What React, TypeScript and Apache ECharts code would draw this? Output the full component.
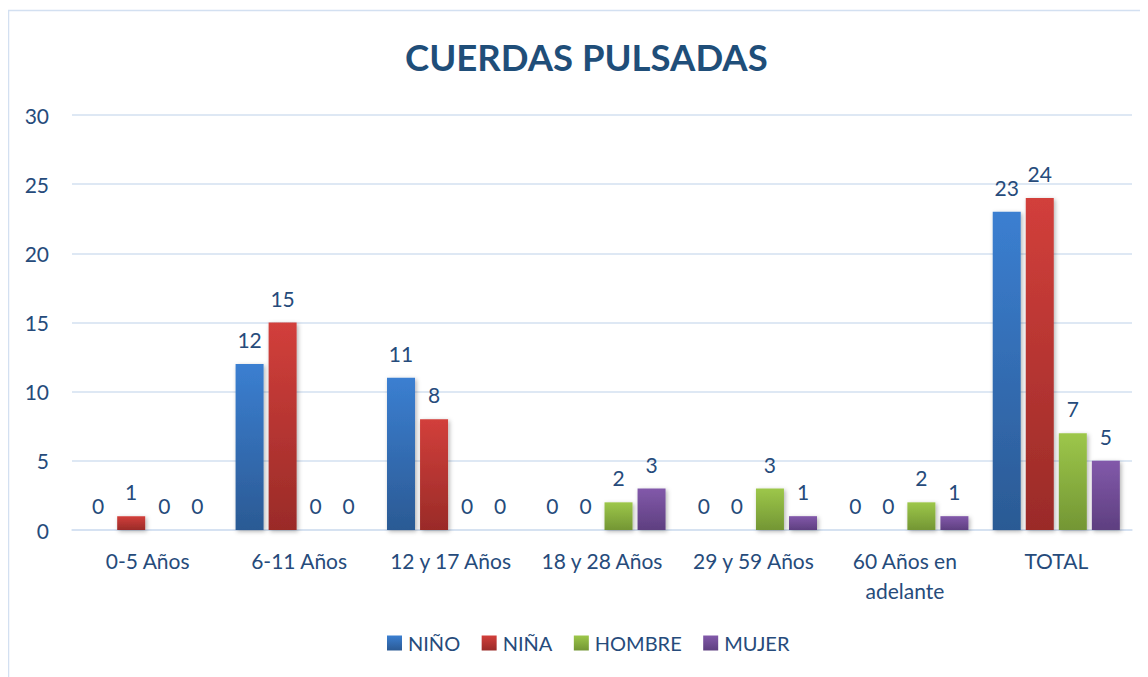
import React, { useEffect, useRef } from "react";
import * as echarts from "echarts";

const categories = ["0-5 Años", "6-11 Años", "12 y 17 Años", "18 y 28 Años", "29 y 59 Años", "60 Años en adelante", "TOTAL"];
const seriesNames = ["NIÑO", "NIÑA", "HOMBRE", "MUJER"];
const ninoValues = [0, 12, 11, 0, 0, 0, 23];
const ninaValues = [1, 15, 8, 0, 0, 0, 24];
const hombreValues = [0, 0, 0, 2, 3, 2, 7];
const mujerValues = [0, 0, 0, 3, 1, 1, 5];
const yTicks = { min: 0, max: 30, interval: 5 };

const TEXT = "#264B7B";
const FONT = "Lato, 'Open Sans', sans-serif";

const grad = (top: string, bottom: string) =>
  new echarts.graphic.LinearGradient(0, 0, 0, 1, [
    { offset: 0, color: top },
    { offset: 1, color: bottom },
  ]);

const palette = [
  ["#3B7FD1", "#2B5A94"],
  ["#D23F3B", "#9A2B28"],
  ["#9DC74A", "#739634"],
  ["#8259AA", "#5E3F80"],
];

export default function App() {
  const ref = useRef<HTMLDivElement>(null);
  useEffect(() => {
    if (!ref.current) return;
    const chart = echarts.init(ref.current, null, { renderer: "svg" });
    const allValues = [ninoValues, ninaValues, hombreValues, mujerValues];
    chart.setOption({
      animation: false,
      backgroundColor: "#ffffff",
      textStyle: { fontFamily: FONT },
      graphic: [
        {
          type: "rect",
          shape: { x: 0.5, y: 2.5, width: 1200, height: 800 },
          style: { fill: "none", stroke: "#D3E0F1", lineWidth: 1.5 },
          silent: true,
        },
      ],
      title: {
        text: "CUERDAS PULSADAS",
        left: 392,
        top: 25,
        textStyle: { fontFamily: FONT, fontSize: 36.5, fontWeight: "bold", color: "#1F4E79" },
      },
      legend: {
        data: seriesNames,
        bottom: 19,
        left: 374,
        icon: "rect",
        itemWidth: 15,
        itemHeight: 15,
        itemGap: 21.5,
        textStyle: { fontFamily: FONT, fontSize: 20, color: TEXT, padding: [0, 0, 0, 1] },
      },
      grid: { left: 64, right: 16, top: 107, bottom: 147, containLabel: false },
      xAxis: {
        type: "category",
        data: categories,
        axisLine: { show: true, lineStyle: { color: "#D3E0F1", width: 1.5 } },
        axisTick: { show: false },
        axisLabel: {
          fontFamily: FONT,
          fontSize: 21,
          color: TEXT,
          margin: 15,
          lineHeight: 30,
          interval: 0,
          formatter: (v: string) => v.replace(" en adelante", " en\nadelante"),
        },
      },
      yAxis: {
        type: "value",
        min: yTicks.min,
        max: yTicks.max,
        interval: yTicks.interval,
        axisLine: { show: false },
        axisTick: { show: false },
        axisLabel: { fontFamily: FONT, fontSize: 21, color: TEXT, margin: 23 },
        splitLine: { lineStyle: { color: "#D3E0F1", width: 1.5 } },
      },
      series: seriesNames.map((name, i) => ({
        name,
        type: "bar",
        data: allValues[i],
        barWidth: 28,
        barGap: "18%",
        itemStyle: {
          color: grad(palette[i][0], palette[i][1]),
          shadowColor: "rgba(0,0,0,0.3)",
          shadowBlur: 4,
          shadowOffsetX: 1.5,
          shadowOffsetY: 1.5,
        },
        label: {
          show: true,
          position: "top",
          distance: 14,
          fontFamily: FONT,
          fontSize: 21,
          color: TEXT,
        },
      })),
    });
    return () => chart.dispose();
  }, []);
  return <div ref={ref} style={{ width: 1140, height: 669 }} />;
}
